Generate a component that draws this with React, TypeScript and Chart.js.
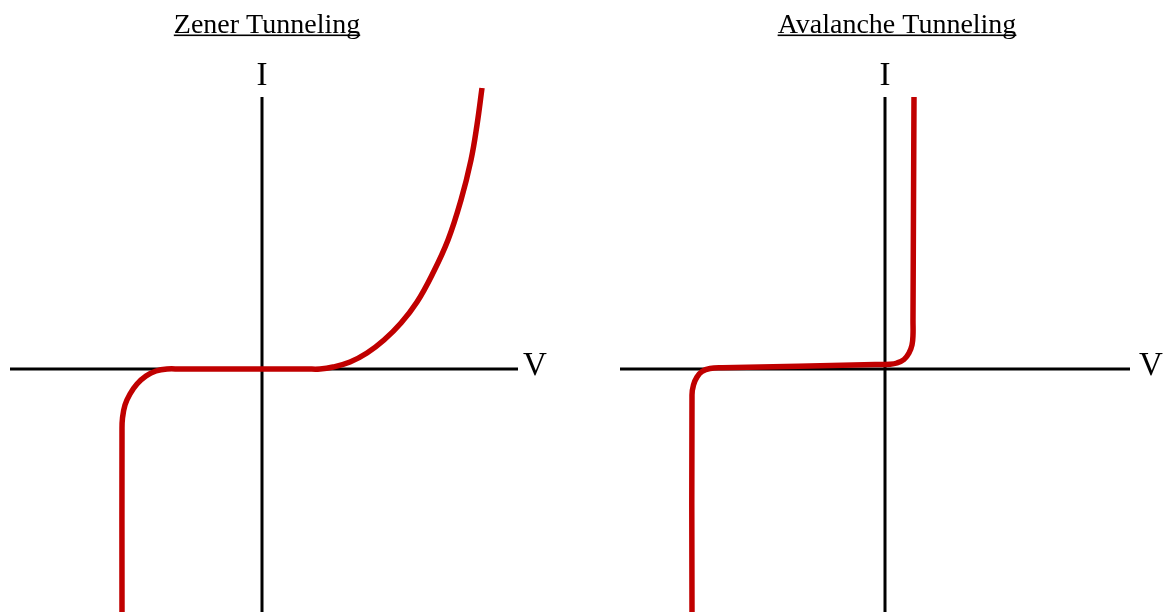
import { useEffect, useRef } from 'react';
import { Chart, registerables } from 'chart.js';

Chart.register(...registerables);

const CURVE_RED = '#c00000';
const AXIS_BLACK = '#000000';
const SERIF = '"Liberation Serif", "Times New Roman", serif';

// Zener diode: rounded reverse-breakdown knee, flat leakage region, forward rise
const zenerV = [
  -14.0, -14.0, -13.95, -13.7, -13.2, -12.5, -11.6, -10.6, -9.5, -8.2, 4.5, 5.8,
  7.1, 8.8, 10.5, 12.2, 13.9, 15.5, 17.0, 18.6, 19.9, 20.9, 21.5, 22.0,
];
const zenerI = [
  -24.3, -6.1, -4.9, -3.6, -2.5, -1.5, -0.7, -0.2, 0.0, 0.0, 0.0, 0.0,
  0.2, 0.7, 1.6, 2.9, 4.6, 6.7, 9.4, 12.9, 16.9, 20.9, 24.4, 28.1,
];

// Avalanche diode: sharp breakdown, slightly sloped leakage, steep forward turn-on
const avalancheV = [
  -19.3, -19.3, -19.15, -18.8, -18.3, -17.5, -16.3, -1.0, 0.5, 1.2, 1.9, 2.4, 2.7, 2.8, 2.8, 2.9,
];
const avalancheI = [
  -24.3, -2.6, -1.6, -0.8, -0.25, 0.05, 0.12, 0.44, 0.48, 0.6, 0.95, 1.6, 2.4, 3.4, 4.9, 27.2,
];

// Extents of the drawn V (horizontal) and I (vertical) axes
const zenerAxisV = [-25.2, 25.6];
const zenerAxisI = [-24.3, 27.2];
const avalancheAxisV = [-26.5, 24.5];
const avalancheAxisI = [-24.3, 27.2];

// Visible ranges of each panel
const zenerRangeV = [-26.2, 31.9];
const avalancheRangeV = [-30.4, 27.8];
const rangeI = [-24.3, 36.9];

const titles = ['Zener Tunneling', 'Avalanche Tunneling'];
const axisLabels = ['I', 'V'];

type PanelProps = {
  title: string;
  titleX: number;
  vLabelGap: number;
  curveV: number[];
  curveI: number[];
  axisV: number[];
  axisI: number[];
  rangeV: number[];
  left: number;
  width: number;
};

function Panel(props: PanelProps) {
  const ref = useRef<HTMLCanvasElement | null>(null);

  useEffect(() => {
    const canvas = ref.current;
    if (!canvas) return;
    const { title, titleX, vLabelGap, curveV, curveI, axisV, axisI, rangeV } = props;

    const curve = curveV.map((v, i) => ({ x: v, y: curveI[i] }));
    const hAxis = axisV.map((v) => ({ x: v, y: 0 }));
    const vAxis = axisI.map((c) => ({ x: 0, y: c }));

    const labels = {
      id: 'panelLabels',
      afterDatasetsDraw(chart: any) {
        const ctx = chart.ctx;
        const xs = chart.scales.x;
        const ys = chart.scales.y;
        ctx.save();
        ctx.fillStyle = '#000';

        // underlined title
        ctx.font = `28px ${SERIF}`;
        ctx.textAlign = 'center';
        ctx.textBaseline = 'alphabetic';
        ctx.fillText(title, titleX, 33);
        const w = ctx.measureText(title).width;
        ctx.fillRect(titleX - w / 2, 34.5, w, 1.6);

        // axis names
        ctx.font = `33px ${SERIF}`;
        ctx.textAlign = 'center';
        ctx.fillText(axisLabels[0], xs.getPixelForValue(0), ys.getPixelForValue(axisI[1]) - 12);
        ctx.textAlign = 'left';
        ctx.fillText(axisLabels[1], xs.getPixelForValue(axisV[1]) + vLabelGap, ys.getPixelForValue(0) + 6);
        ctx.restore();
      },
    };

    const chart = new Chart(canvas, {
      type: 'scatter',
      data: {
        datasets: [
          {
            data: curve,
            showLine: true,
            borderColor: CURVE_RED,
            borderWidth: 5.5,
            pointRadius: 0,
            tension: 0.4,
            borderJoinStyle: 'round',
            order: 0,
          },
          {
            data: hAxis,
            showLine: true,
            borderColor: AXIS_BLACK,
            borderWidth: 3,
            pointRadius: 0,
            order: 1,
          },
          {
            data: vAxis,
            showLine: true,
            borderColor: AXIS_BLACK,
            borderWidth: 3,
            pointRadius: 0,
            order: 1,
          },
        ],
      },
      options: {
        responsive: false,
        animation: false,
        layout: { padding: 0 },
        plugins: {
          legend: { display: false },
          title: { display: false },
          tooltip: { enabled: false },
        },
        scales: {
          x: { type: 'linear', display: false, min: rangeV[0], max: rangeV[1] },
          y: { type: 'linear', display: false, min: rangeI[0], max: rangeI[1] },
        },
      },
      plugins: [labels],
    } as any);

    return () => chart.destroy();
  }, []);

  return (
    <canvas
      ref={ref}
      width={props.width}
      height={612}
      style={{ position: 'absolute', left: props.left, top: 0, width: props.width, height: 612 }}
    />
  );
}

export default function App() {
  return (
    <div style={{ position: 'absolute', left: 0, top: 0, width: 1163, height: 612, background: '#fff', overflow: 'hidden' }}>
      <Panel
        title={titles[0]}
        titleX={267}
        vLabelGap={5}
        curveV={zenerV}
        curveI={zenerI}
        axisV={zenerAxisV}
        axisI={zenerAxisI}
        rangeV={zenerRangeV}
        left={0}
        width={581}
      />
      <Panel
        title={titles[1]}
        titleX={316}
        vLabelGap={9}
        curveV={avalancheV}
        curveI={avalancheI}
        axisV={avalancheAxisV}
        axisI={avalancheAxisI}
        rangeV={avalancheRangeV}
        left={581}
        width={582}
      />
    </div>
  );
}
